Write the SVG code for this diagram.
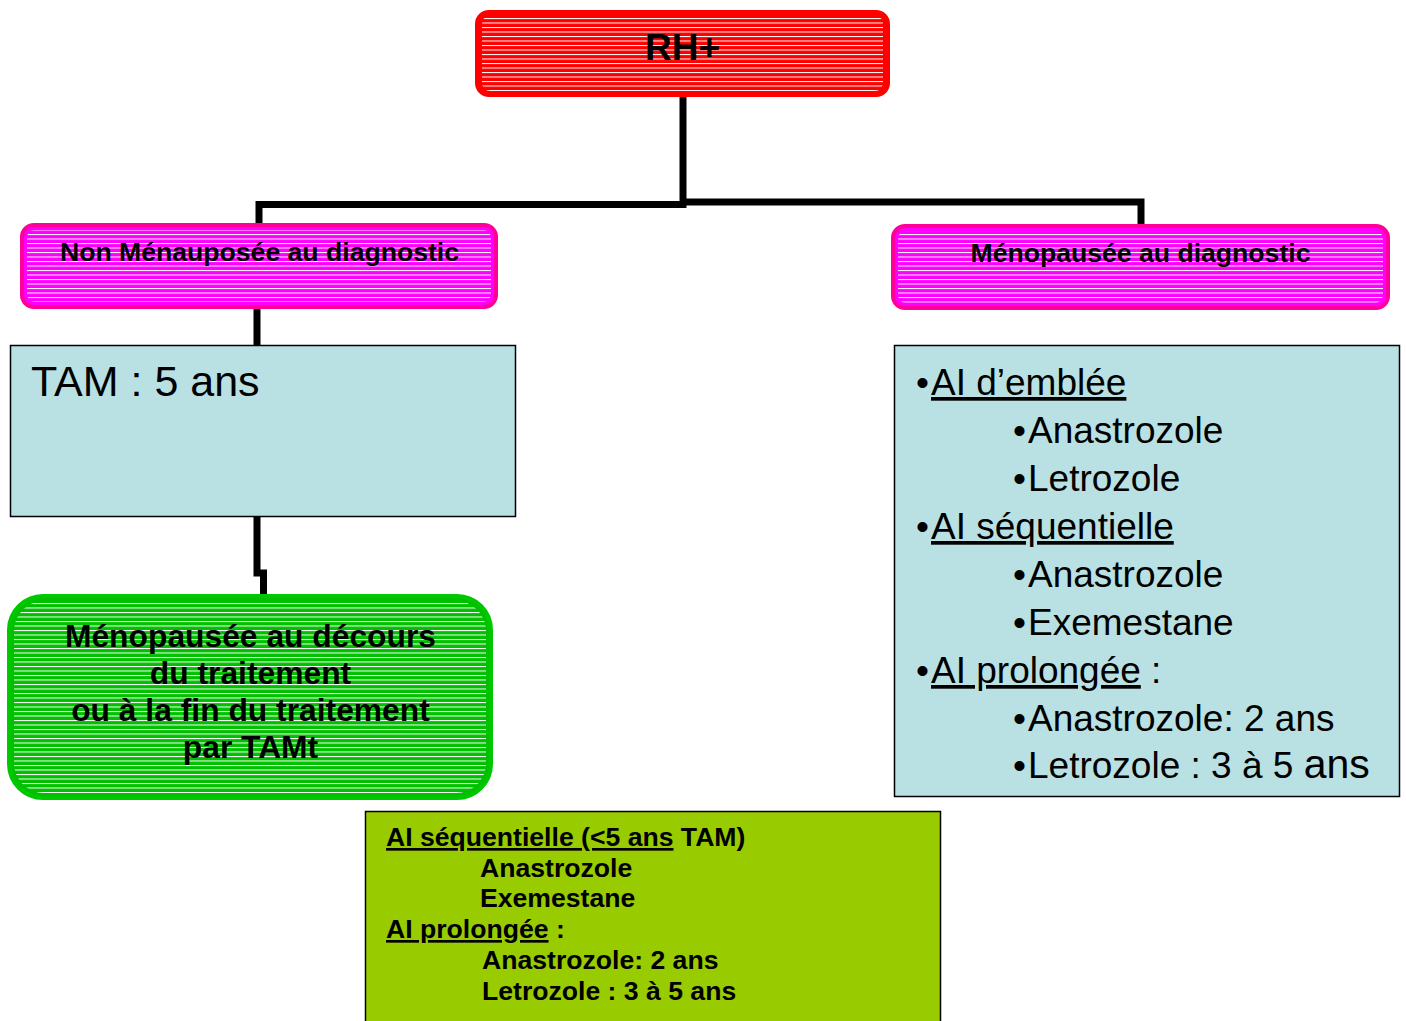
<svg xmlns="http://www.w3.org/2000/svg" width="1406" height="1021" viewBox="0 0 1406 1021">
<defs>
<pattern id="stripes" patternUnits="userSpaceOnUse" width="8" height="4.5">
<rect x="0" y="0" width="8" height="1" fill="#ffffff"/>
</pattern>
<style>
text{font-family:"Liberation Sans",Arial,sans-serif;fill:#000}
.b{font-weight:bold}
.u{text-decoration:underline}
.conn{fill:none;stroke:#000;stroke-width:7;stroke-linejoin:miter}
.red{fill:#ff0000;stroke:#ff0000;stroke-width:4}
.mag{fill:#ff00ff;stroke:#ff0099;stroke-width:4}
.grn{fill:#00c000;stroke:#00c800;stroke-width:4}
.blue{fill:#b9e0e3;stroke:#000;stroke-width:1.5}
.lime{fill:#99cc00;stroke:#000;stroke-width:1.5}
.st{fill:url(#stripes);stroke:none}
</style>
</defs>
<rect width="1406" height="1021" fill="#fff"/>
<g id="connectors">
<path class="conn" d="M683 96 V204.5 H259 V226"/>
<path class="conn" d="M683 202 H1141 V227"/>
<path class="conn" d="M257 307 V346"/>
<path class="conn" d="M257 517 V573 H263.5 V596"/>
</g>
<g id="node-rh">
<rect class="red" x="477" y="12" width="411" height="83" rx="12"/>
<rect class="st" x="482" y="16" width="401" height="75" rx="8"/>
<text class="b" x="682.5" y="60" font-size="37" text-anchor="middle">RH+</text>
</g>
<g id="node-non-menopausee">
<rect class="mag" x="22" y="225" width="474" height="82" rx="12"/>
<rect class="st" x="27" y="230" width="464" height="72" rx="8"/>
<text class="b" x="259.5" y="261" font-size="26.6" text-anchor="middle">Non Ménauposée au diagnostic</text>
</g>
<g id="node-menopausee">
<rect class="mag" x="893" y="226" width="495" height="82" rx="12"/>
<rect class="st" x="898" y="231" width="485" height="72" rx="8"/>
<text class="b" x="1140.5" y="262" font-size="26.6" text-anchor="middle">Ménopausée au diagnostic</text>
</g>
<g id="node-tam">
<rect class="blue" x="10.5" y="345.5" width="505" height="171"/>
<text x="31" y="396" font-size="43">TAM : 5 ans</text>
</g>
<g id="node-ai-list">
<rect class="blue" x="894.5" y="345.5" width="505" height="451"/>
<g font-size="37">
<text x="916" y="395">•<tspan x="931" class="u">AI d’emblée</tspan></text>
<text x="1013" y="443">•<tspan x="1028">Anastrozole</tspan></text>
<text x="1013" y="491">•<tspan x="1028">Letrozole</tspan></text>
<text x="916" y="539">•<tspan x="931" class="u">AI séquentielle</tspan></text>
<text x="1013" y="587">•<tspan x="1028">Anastrozole</tspan></text>
<text x="1013" y="635">•<tspan x="1028">Exemestane</tspan></text>
<text x="916" y="683">•<tspan x="931" class="u">AI prolongée</tspan> :</text>
<text x="1013" y="731">•<tspan x="1028">Anastrozole: 2 ans</tspan></text>
<text x="1013" y="778">•<tspan x="1028">Letrozole : 3 à 5 <tspan font-size="41">ans</tspan></tspan></text>
</g>
</g>
<g id="node-decours">
<rect class="grn" x="9" y="596" width="482" height="202" rx="34"/>
<rect class="st" x="14" y="601" width="472" height="192" rx="30"/>
<g class="b" font-size="31.8" text-anchor="middle">
<text class="b" x="250.5" y="647">Ménopausée au décours</text>
<text class="b" x="250.5" y="684">du traitement</text>
<text class="b" x="250.5" y="721">ou à la fin du traitement</text>
<text class="b" x="250.5" y="758">par TAMt</text>
</g>
</g>
<g id="node-sequentielle">
<rect class="lime" x="365.5" y="811.5" width="575" height="215"/>
<g font-size="26.6">
<text class="b" x="386" y="846"><tspan class="u">AI séquentielle (&lt;5 ans</tspan> TAM)</text>
<text class="b" x="480" y="877">Anastrozole</text>
<text class="b" x="480" y="907">Exemestane</text>
<text class="b" x="386" y="938"><tspan class="u">AI prolongée</tspan> :</text>
<text class="b" x="482" y="969">Anastrozole: 2 ans</text>
<text class="b" x="482" y="1000">Letrozole : 3 à 5 ans</text>
</g>
</g>
</svg>
